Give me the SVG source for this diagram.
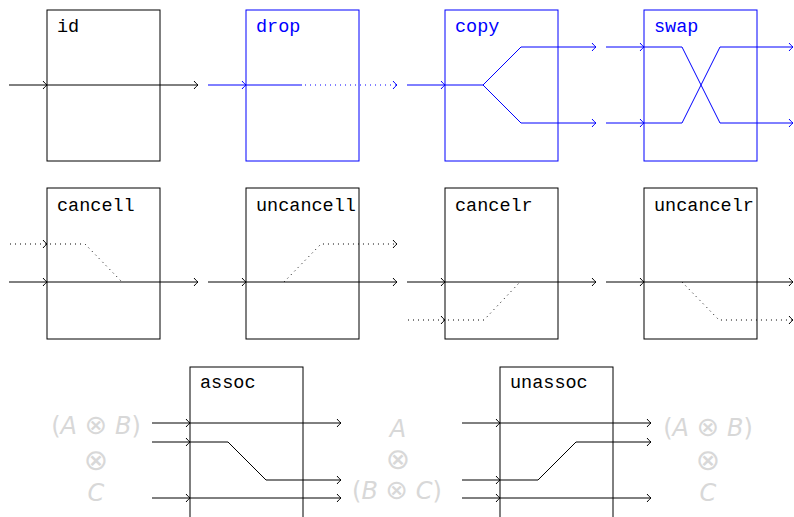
<svg xmlns="http://www.w3.org/2000/svg" width="794" height="517" viewBox="0 0 794 517">
<style>
.box{fill:none;stroke:#000;stroke-width:1}
.bbox{fill:none;stroke:#00f;stroke-width:1}
.w{fill:none;stroke:#000;stroke-width:1}
.bw{fill:none;stroke:#00f;stroke-width:1}
.dot{stroke-dasharray:1 4}
.ar{marker-end:url(#ah)}
.bar{marker-end:url(#bah)}
.lbl{font-family:"Liberation Mono","Courier New",monospace;font-size:18.5px;fill:#000}
.blbl{font-family:"Liberation Mono","Courier New",monospace;font-size:18.5px;fill:#00f}
.ty{font-family:"DejaVu Sans ExtraLight","DejaVu Sans","Noto Sans",sans-serif;font-size:24px;fill:#d8d8d8;text-anchor:middle}
.it{font-style:italic}
.op{font-size:27px}
.bop{font-size:29px}
</style>
<defs>
<marker id="ah" markerUnits="userSpaceOnUse" markerWidth="12" markerHeight="12" viewBox="-6 -6 12 12" refX="0" refY="0" orient="auto">
<path d="M-4,-4 Q-1.5,-1 0,0 Q-1.5,1 -4,4" fill="none" stroke="#000" stroke-width="1" stroke-dasharray="none"/>
</marker>
<marker id="bah" markerUnits="userSpaceOnUse" markerWidth="12" markerHeight="12" viewBox="-6 -6 12 12" refX="0" refY="0" orient="auto">
<path d="M-4,-4 Q-1.5,-1 0,0 Q-1.5,1 -4,4" fill="none" stroke="#00f" stroke-width="1" stroke-dasharray="none"/>
</marker>
</defs>
<rect width="794" height="517" fill="#fff"/>

<g id="node-id">
<rect class="box" x="47" y="10" width="113" height="151"/>
<text class="lbl" x="57" y="32">id</text>
</g>
<g id="node-drop">
<rect class="bbox" x="246" y="10" width="113" height="151"/>
<text class="blbl" x="256" y="32">drop</text>
</g>
<g id="node-copy">
<rect class="bbox" x="445" y="10" width="113" height="151"/>
<text class="blbl" x="455" y="32">copy</text>
</g>
<g id="node-swap">
<rect class="bbox" x="644" y="10" width="113" height="151"/>
<text class="blbl" x="654" y="32">swap</text>
</g>
<g id="node-cancell">
<rect class="box" x="47" y="188" width="113" height="151"/>
<text class="lbl" x="57" y="211">cancell</text>
</g>
<g id="node-uncancell">
<rect class="box" x="246" y="188" width="113" height="151"/>
<text class="lbl" x="256" y="211">uncancell</text>
</g>
<g id="node-cancelr">
<rect class="box" x="445" y="188" width="113" height="151"/>
<text class="lbl" x="455" y="211">cancelr</text>
</g>
<g id="node-uncancelr">
<rect class="box" x="644" y="188" width="113" height="151"/>
<text class="lbl" x="654" y="211">uncancelr</text>
</g>
<g id="node-assoc">
<rect class="box" x="190" y="367" width="113" height="170"/>
<text class="lbl" x="200" y="388">assoc</text>
</g>
<g id="node-unassoc">
<rect class="box" x="500" y="367" width="113" height="170"/>
<text class="lbl" x="510" y="388">unassoc</text>
</g>

<g id="types">
<text class="ty" x="96" y="434">(<tspan class="it">A</tspan> <tspan class="op">⊗</tspan> <tspan class="it">B</tspan>)</text>
<text class="ty bop" x="96" y="470">⊗</text>
<text class="ty it" x="96" y="501">C</text>
<text class="ty it" x="398" y="437">A</text>
<text class="ty bop" x="398" y="469">⊗</text>
<text class="ty" x="397" y="499">(<tspan class="it">B</tspan> <tspan class="op">⊗</tspan> <tspan class="it">C</tspan>)</text>
<text class="ty" x="708" y="436">(<tspan class="it">A</tspan> <tspan class="op">⊗</tspan> <tspan class="it">B</tspan>)</text>
<text class="ty bop" x="708" y="470">⊗</text>
<text class="ty it" x="708" y="501">C</text>
</g>

<g id="connectors">
<path class="w ar" d="M9,85 H47"/>
<path class="w ar" d="M47,85 H198"/>
<path class="bw bar" d="M208,85 H246"/>
<path class="bw" d="M246,85 H302"/>
<path class="bw dot bar" d="M305,85 H397"/>
<path class="bw bar" d="M407,85 H445"/>
<path class="bw" d="M445,85 H483 L521,47"/>
<path class="bw" d="M483,85 L521,123"/>
<path class="bw bar" d="M521,47 H596"/>
<path class="bw bar" d="M521,123 H596"/>
<path class="bw bar" d="M606,47 H644"/>
<path class="bw bar" d="M606,123 H644"/>
<path class="bw" d="M644,47 H682 L720,123"/>
<path class="bw" d="M644,123 H682 L720,47"/>
<path class="bw bar" d="M720,47 H793"/>
<path class="bw bar" d="M720,123 H793"/>
<path class="w dot ar" d="M10,244 H47"/>
<path class="w dot" d="M50,244 H85 L122,282"/>
<path class="w ar" d="M9,282 H47"/>
<path class="w ar" d="M47,282 H198"/>
<path class="w ar" d="M208,282 H246"/>
<path class="w ar" d="M246,282 H397"/>
<path class="w dot ar" d="M284,282 L321,244 H397"/>
<path class="w ar" d="M407,282 H445"/>
<path class="w ar" d="M445,282 H596"/>
<path class="w dot ar" d="M408,320 H445"/>
<path class="w dot" d="M448,320 H484 L520,282"/>
<path class="w ar" d="M606,282 H644"/>
<path class="w ar" d="M644,282 H793"/>
<path class="w dot ar" d="M682,282 L719,320 H793"/>
<path class="w ar" d="M152,423 H190"/>
<path class="w ar" d="M152,442 H190"/>
<path class="w ar" d="M152,498 H190"/>
<path class="w ar" d="M190,423 H341"/>
<path class="w ar" d="M190,442 H228 L266,480 H341"/>
<path class="w ar" d="M190,498 H341"/>
<path class="w ar" d="M462,423 H500"/>
<path class="w ar" d="M462,480 H500"/>
<path class="w ar" d="M462,498 H500"/>
<path class="w ar" d="M500,423 H651"/>
<path class="w ar" d="M500,480 H538 L576,442 H651"/>
<path class="w ar" d="M500,498 H651"/>
</g>
</svg>
